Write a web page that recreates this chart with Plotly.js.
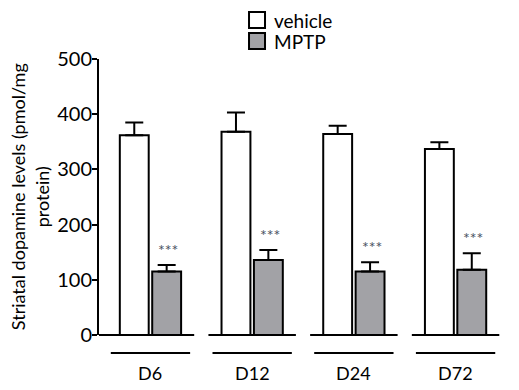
<!DOCTYPE html>
<html>
<head>
<meta charset="utf-8">
<script src="https://cdn.plot.ly/plotly-3.0.1.min.js"></script>
<style>html,body{margin:0;padding:0;background:#fff;}#chart{width:519px;height:390px;}</style>
</head>
<body>
<div id="chart"></div>
<script>
const categories = ["D6", "D12", "D24", "D72"];
const seriesNames = ["vehicle", "MPTP"];
const seriesColors = ["#ffffff", "#a2a2a6"];
const vehicleMean = [362, 368, 364, 337];
const vehicleErr = [23, 35, 15, 12];
const mptpMean = [115, 136, 115, 118];
const mptpErr = [12, 18, 17, 30];
const sigLabels = ["***", "***", "***", "***"];
const yTicks = [0, 100, 200, 300, 400, 500];

const xIdx = categories.map((c, i) => i);
const xRange = [-0.506, 3.486];
const toPaperX = v => (v - xRange[0]) / (xRange[1] - xRange[0]);

const means = [vehicleMean, mptpMean];
const errs = [vehicleErr, mptpErr];
const traces = seriesNames.map((name, s) => ({
  type: "bar", name: name, x: xIdx, y: means[s],
  marker: {color: seriesColors[s], line: {color: "#000000", width: 2}},
  error_y: {type: "data", array: errs[s], arrayminus: errs[s].map(() => 0), symmetric: false,
            color: "#000000", thickness: 2, width: 9}
}));

const shapes = [];
const annotations = [];
categories.forEach((c, i) => {
  const left = i === 0 ? xRange[0] : i - 0.43;
  shapes.push({type: "line", xref: "paper", yref: "paper",
    x0: toPaperX(left), x1: toPaperX(i + 0.43), y0: 0, y1: 0,
    line: {color: "#000", width: 2}});
  shapes.push({type: "line", xref: "paper", yref: "paper",
    x0: toPaperX(i - 0.39), x1: toPaperX(i + 0.39), y0: -0.065, y1: -0.065,
    line: {color: "#000", width: 2}});
  annotations.push({xref: "paper", yref: "paper", x: toPaperX(i), y: -0.136,
    text: c, showarrow: false, xanchor: "center", yanchor: "middle",
    font: {family: "Lato, sans-serif", size: 18, color: "#000"}});
  annotations.push({xref: "x", yref: "y", x: i + 0.176, y: mptpMean[i] + mptpErr[i],
    text: sigLabels[i], showarrow: false, xanchor: "center", yanchor: "bottom", yshift: 4,
    font: {family: "Lato, sans-serif", size: 16, color: "#4a5262"}});
});

// custom legend (square swatches + labels)
const legendRows = [1.1413, 1.0652];
seriesNames.forEach((name, s) => {
  shapes.push({type: "rect", xref: "paper", yref: "paper",
    x0: 0.3695, x1: 0.4089, y0: legendRows[s] - 0.029, y1: legendRows[s] + 0.029,
    fillcolor: seriesColors[s], line: {color: "#000", width: 2}});
  annotations.push({xref: "paper", yref: "paper", x: 0.4261, y: legendRows[s],
    text: name, showarrow: false, xanchor: "left", yanchor: "middle",
    font: {family: "Lato, sans-serif", size: 19, color: "#000"}});
});

annotations.push({xref: "paper", yref: "paper", x: -0.172, y: 0.5,
  text: "Striatal dopamine levels (pmol/mg<br>protein)", showarrow: false,
  textangle: -90, xanchor: "center", yanchor: "middle",
  font: {family: "Lato, sans-serif", size: 18, color: "#000"}});

const layout = {
  width: 519, height: 390,
  margin: {l: 99, r: 14, t: 59, b: 55, autoexpand: false},
  paper_bgcolor: "#fff", plot_bgcolor: "#fff",
  barmode: "group", bargap: 0.363, bargroupgap: 0.108,
  font: {family: "Lato, sans-serif", color: "#000"},
  showlegend: false,
  xaxis: {range: xRange, showline: false, showgrid: false, zeroline: false,
    showticklabels: false, ticks: "", fixedrange: true},
  yaxis: {range: [0, 500], tickvals: yTicks, ticktext: yTicks.map(String),
    showline: true, linecolor: "#000", linewidth: 2, ticks: "outside", ticklen: 5,
    tickwidth: 2, tickcolor: "#000", showgrid: false, zeroline: false, ticklabelstandoff: -4,
    tickfont: {family: "Lato, sans-serif", size: 20, color: "#000"}, fixedrange: true},
  shapes: shapes,
  annotations: annotations
};

Plotly.newPlot("chart", traces, layout, {displayModeBar: false, staticPlot: true});
</script>
</body>
</html>
